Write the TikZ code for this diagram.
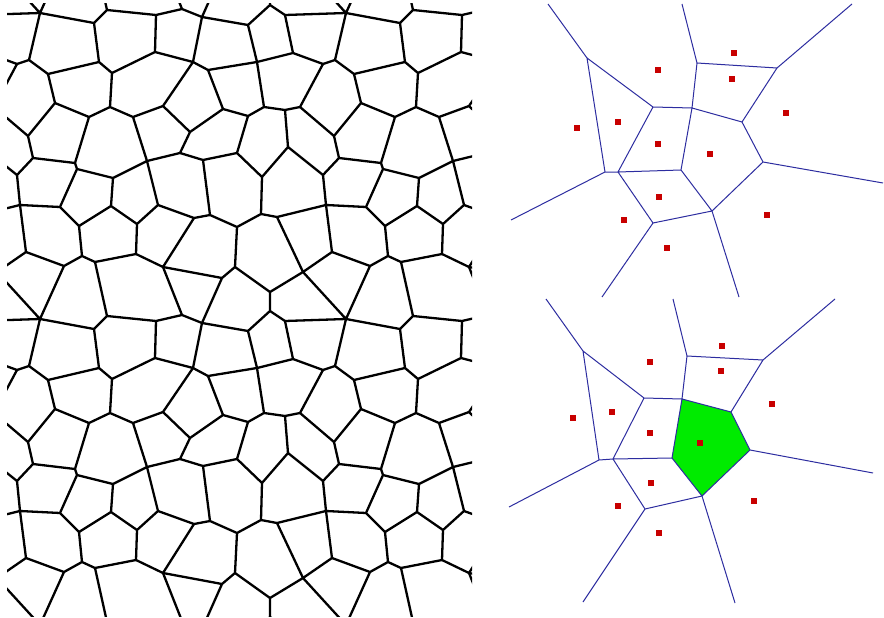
\documentclass[tikz,border=0pt]{standalone}
\definecolor{vblue}{RGB}{45,45,160}
\definecolor{sitered}{RGB}{200,0,0}
\definecolor{cellgreen}{RGB}{0,235,0}
\tikzset{
  cell/.style={line width=2.3pt,line join=round,line cap=round},
  vedge/.style={draw=vblue,line width=1pt},
  site/.style={rectangle,fill=sitered,minimum size=6pt,inner sep=0pt,draw=none}
}
\newcommand{\vtile}{%
\coordinate (V1) at (40,13); \coordinate (V2) at (94,23); \coordinate (V3) at (107,10);
\coordinate (V4) at (156,15); \coordinate (V4b) at (182,9); \coordinate (V4c) at (202,17);
\coordinate (B1) at (248,25); \coordinate (B2) at (270,5); \coordinate (B4) at (285,15);
\coordinate (W) at (17,64); \coordinate (V5) at (29,60); \coordinate (V6) at (99,62);
\coordinate (V7) at (155,52); \coordinate (V8) at (193,62); \coordinate (V11) at (208,70);
\coordinate (B3) at (257,62); \coordinate (B6) at (293,53); \coordinate (V9) at (48,74);
\coordinate (V10) at (112,73); \coordinate (V12) at (55,103); \coordinate (V14) at (110,107);
\coordinate (V17) at (89,117); \coordinate (V18) at (133,117); \coordinate (V13) at (163,106);
\coordinate (V19) at (190,132); \coordinate (V15) at (223,109); \coordinate (B12) at (248,116);
\coordinate (B7) at (264,107); \coordinate (B13) at (285,110); \coordinate (B10) at (300,107);
\coordinate (V16) at (28,136); \coordinate (H1) at (33,158); \coordinate (B16) at (288,147);
\coordinate (V20) at (180,153); \coordinate (D8) at (147,161); \coordinate (D16) at (203,160);
\coordinate (F1) at (237,153); \coordinate (E1) at (262,177); \coordinate (D1) at (17,175);
\coordinate (D6a) at (75,163); \coordinate (D6b) at (77,169); \coordinate (D7) at (113,178);
\coordinate (D2) at (20,205); \coordinate (D3) at (60,207); \coordinate (D9) at (111,206);
\coordinate (D10) at (158,205); \coordinate (D14) at (194,218); \coordinate (D15) at (210,215);
\coordinate (G1) at (237,227); \coordinate (E2) at (261,214); \coordinate (E5) at (277,217);
\coordinate (D5) at (79,226); \coordinate (D11) at (137,224); \coordinate (D4) at (26,252);
\coordinate (D12) at (82,256); \coordinate (D19) at (95,262); \coordinate (D13) at (136,254);
\coordinate (D18) at (64,266); \coordinate (D17) at (163,267); \coordinate (D21) at (222,278);
\coordinate (G2) at (235,267); \coordinate (E6) at (303,272); \coordinate (E8) at (270,292);
\coordinate (xE6) at (-3,-34); \coordinate (xD18) at (64,-40); \coordinate (xB4) at (-21,15);
\coordinate (xD19) at (95,-44); \coordinate (xD17) at (163,-39); \coordinate (xD21) at (222,-28);
\coordinate (xE8) at (270,-14); \coordinate (xW) at (323,64); \coordinate (xV16) at (334,136);
\coordinate (xD1) at (323,175); \coordinate (xD2) at (326,205); \coordinate (xD4) at (332,252);
\draw[cell] (V1)--(V2)--(V3)--(V4)--(V4b)--(V4c)--(B1)--(B2)--(B4)--(B6)
 (B1)--(B3) (V1)--(V5)--(W) (V5)--(V9) (V2)--(V6)--(V9) (V6)--(V10) (V4)--(V7)--(V10)
 (V7)--(V8) (V4c)--(V8)--(V11) (V8)--(V13) (V11)--(B3) (V11)--(V15) (B3)--(B6) (B3)--(B7)
 (V9)--(V12) (V10)--(V14) (V12)--(V16) (V12)--(V17) (V14)--(V17) (V14)--(V18) (V18)--(V13)
 (V13)--(V19) (V19)--(V15) (V15)--(B12) (B12)--(B7) (B7)--(B13) (B13)--(B10) (B13)--(B16)
 (B12)--(F1) (V19)--(V20) (V17)--(D6a) (V18)--(D8) (V16)--(H1) (H1)--(D1) (H1)--(D6a)
 (D6a)--(D6b) (D6b)--(D7) (D6b)--(D3) (D7)--(D8) (D7)--(D9) (D8)--(V20) (D8)--(D10)
 (V20)--(D16) (D16)--(F1) (D16)--(D15) (F1)--(E1) (E1)--(B16) (E1)--(E2) (D1)--(D2)
 (D2)--(D3) (D2)--(D4) (D3)--(D5) (D9)--(D5) (D9)--(D11) (D10)--(D11) (D10)--(D14)
 (D14)--(D15) (D14)--(D17) (D15)--(G1) (G1)--(E2) (G1)--(G2) (E2)--(E5) (E5)--(E6)
 (D5)--(D12) (D11)--(D13) (D4)--(D18) (D12)--(D18) (D12)--(D19) (D19)--(D13) (D13)--(D17)
 (D17)--(D21) (D21)--(G2) (G2)--(E8) (E8)--(E6)
 (V1)--(xE6) (V1)--(xD18) (V1)--(xB4) (V3)--(xD19) (V4b)--(xD17) (V4c)--(xD21) (B2)--(xE8)
 (B6)--(xW) (B10)--(xW) (B10)--(xV16) (B16)--(xD1) (E5)--(xD2) (E6)--(xD4);
}
\begin{document}
\begin{tikzpicture}[x=1pt,y=-1pt]
\useasboundingbox[fill=white] (0,0) rectangle (884,618);
% left panel: periodic Voronoi tessellation
\begin{scope}
\clip (7,4) rectangle (472,616);
\foreach \i in {-1,0,1}{\foreach \j in {-1,0,1,2}{
  \begin{scope}[shift={(\i*306,\j*306)}]\vtile\end{scope}}}
\end{scope}
% top right diagram
\coordinate (R1) at (587,58); \coordinate (R2) at (653,107); \coordinate (R3) at (692,108);
\coordinate (R4) at (697,63); \coordinate (R8) at (777,68); \coordinate (R7) at (742,122);
\coordinate (R9) at (763,162); \coordinate (R10) at (712,211); \coordinate (R6) at (681,170);
\coordinate (R5a) at (605,172); \coordinate (R5b) at (618,172); \coordinate (R11) at (653,223);
\coordinate (ta) at (548,4); \coordinate (tb) at (682,4); \coordinate (tc) at (852,4);
\coordinate (td) at (883,183); \coordinate (te) at (739,297); \coordinate (tf) at (602,297);
\coordinate (tg) at (511,220);
\draw[vedge] (R1)--(ta) (R1)--(R2) (R1)--(R5a) (R2)--(R3) (R2)--(R5b) (R3)--(R4) (R3)--(R6)
 (R3)--(R7) (R4)--(tb) (R4)--(R8) (R8)--(tc) (R8)--(R7) (R7)--(R9) (R9)--(td) (R9)--(R10)
 (R10)--(R6) (R10)--(te) (R10)--(R11) (R6)--(R5b) (R5b)--(R5a) (R5a)--(tg) (R5b)--(R11)
 (R11)--(tf);
\foreach \n/\p in {t1/{(734,53)},t2/{(658,70)},t3/{(732,79)},t4/{(786,113)},t5/{(618,122)},
 t6/{(577,128)},t7/{(658,144)},t8/{(710,154)},t9/{(659,197)},t10/{(624,220)},t11/{(767,215)},
 t12/{(667,248)}}
 \node[site] (\n) at \p {};
% bottom right diagram
\coordinate (S1) at (583,351); \coordinate (S2) at (644,398); \coordinate (S4) at (682,399);
\coordinate (S5) at (687,356); \coordinate (S8) at (763,360); \coordinate (S7) at (731,412);
\coordinate (S9) at (750,450); \coordinate (S10) at (702,496); \coordinate (S6) at (672,458);
\coordinate (S3a) at (599,460); \coordinate (S3b) at (613,459); \coordinate (S11) at (645,509);
\coordinate (ba) at (546,299); \coordinate (bb) at (673,299); \coordinate (bc) at (835,299);
\coordinate (bd) at (873,473); \coordinate (be) at (735,603); \coordinate (bf) at (583,602);
\coordinate (bg) at (509,507);
\fill[cellgreen] (S4)--(S7)--(S9)--(S10)--(S6)--cycle;
\draw[vedge] (S1)--(ba) (S1)--(S2) (S1)--(S3a) (S2)--(S4) (S2)--(S3b) (S4)--(S5) (S4)--(S6)
 (S4)--(S7) (S5)--(bb) (S5)--(S8) (S8)--(bc) (S8)--(S7) (S7)--(S9) (S9)--(bd) (S9)--(S10)
 (S10)--(S6) (S10)--(be) (S10)--(S11) (S6)--(S3b) (S3b)--(S3a) (S3a)--(bg) (S3b)--(S11)
 (S11)--(bf);
\foreach \n/\p in {b1/{(722,346)},b2/{(650,362)},b3/{(721,371)},b4/{(772,404)},b5/{(612,412)},
 b6/{(573,418)},b7/{(650,433)},b8/{(700,443)},b9/{(651,483)},b10/{(618,506)},b11/{(754,501)},
 b12/{(659,533)}}
 \node[site] (\n) at \p {};
\end{tikzpicture}
\end{document}
